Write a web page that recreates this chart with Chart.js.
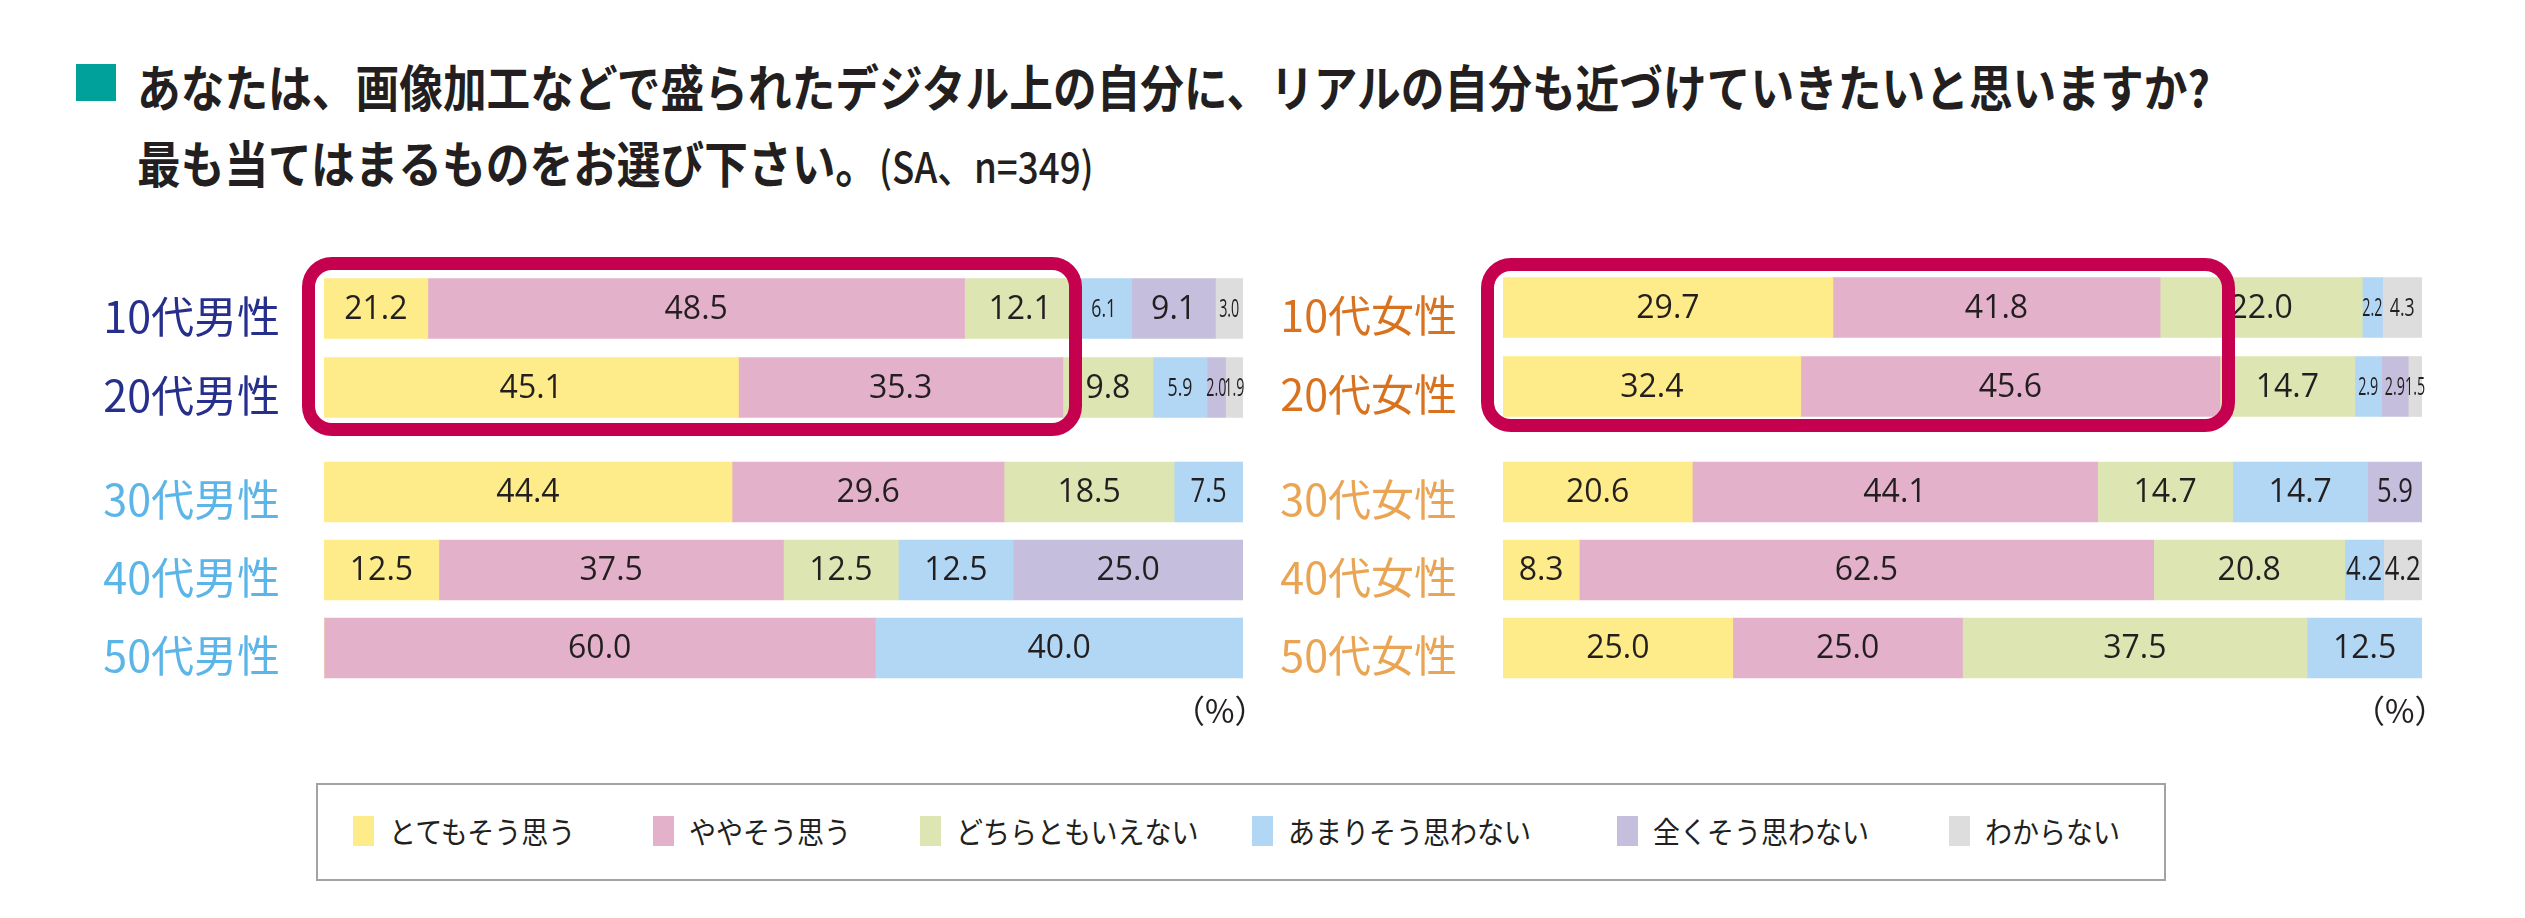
<!DOCTYPE html>
<html><head><meta charset="utf-8">
<script src="https://cdn.jsdelivr.net/npm/chart.js@4/dist/chart.umd.min.js"></script>
<style>
html,body{margin:0;padding:0;background:#fff;}
#wrap{position:relative;width:2525px;height:918px;overflow:hidden;background:#fff;}
canvas{position:absolute;}
.t{position:absolute;white-space:nowrap;font-family:"Noto Sans CJK JP";color:#231f20;}
.frame{position:absolute;box-sizing:border-box;border:13px solid #c5004f;border-radius:30px;z-index:5;}
#legend{position:absolute;left:316px;top:783px;width:1850px;height:98px;box-sizing:border-box;border:2px solid #a3a3a3;}
.lg{position:absolute;top:0;height:98px;}
.lg i{position:absolute;top:31px;width:21px;height:30px;}
.lg span{position:absolute;top:25px;font-family:"Noto Sans CJK JP";font-size:30px;line-height:40px;color:#231f20;white-space:nowrap;transform:scaleX(0.9);transform-origin:left center;}
</style></head><body>
<div id="wrap">
  <div style="position:absolute;left:76px;top:64px;width:40px;height:37px;background:#00a19a;"></div>
  <div class="t" id="t1" style="left:137px;top:60px;font-size:50px;line-height:50px;font-weight:700;transform:scaleX(0.874);transform-origin:left top;">あなたは、画像加工などで盛られたデジタル上の自分に、リアルの自分も近づけていきたいと思いますか?</div>
  <div class="t" id="t2" style="left:137px;top:136px;font-size:50px;line-height:50px;font-weight:700;transform:scaleX(0.874);transform-origin:left top;">最も当てはまるものをお選び下さい。<span style="font-size:42px;font-weight:500;">(SA、n=349)</span></div>

  <canvas id="cLT" width="1225" height="158" style="left:40px;top:269px;"></canvas>
  <canvas id="cLB" width="1225" height="234" style="left:40px;top:453px;"></canvas>
  <canvas id="cRT" width="1225" height="158" style="left:1220px;top:268px;"></canvas>
  <canvas id="cRB" width="1225" height="234" style="left:1220px;top:453px;"></canvas>

  <div class="frame" style="left:302px;top:257px;width:780px;height:179px;"></div>
  <div class="frame" style="left:1481px;top:258px;width:754px;height:174px;"></div>

  <div class="t" style="left:1173px;top:690px;font-size:32px;line-height:38px;">（%）</div>
  <div class="t" style="left:2353px;top:690px;font-size:32px;line-height:38px;">（%）</div>

  <div id="legend"></div>
</div>
<script>
// ---- data ----
const seriesLabels = ['とてもそう思う','ややそう思う','どちらともいえない','あまりそう思わない','全くそう思わない','わからない'];
const seriesColors = ['#fdec89','#e4b1cb','#dde5b2','#b2d7f4','#c6bedd','#dddddd'];

const maleTopCats = ['10代男性','20代男性'];
const maleBottomCats = ['30代男性','40代男性','50代男性'];
const femaleTopCats = ['10代女性','20代女性'];
const femaleBottomCats = ['30代女性','40代女性','50代女性'];

// printed values (%)
const male10 = [21.2, 48.5, 12.1, 6.1, 9.1, 3.0];
const male20 = [45.1, 35.3, 9.8, 5.9, 2.0, 1.9];
const male30 = [44.4, 29.6, 18.5, 7.5, 0, 0];
const male40 = [12.5, 37.5, 12.5, 12.5, 25.0, 0];
const male50 = [0, 60.0, 0, 40.0, 0, 0];
const female10 = [29.7, 41.8, 22.0, 2.2, 0, 4.3];
const female20 = [32.4, 45.6, 14.7, 2.9, 2.9, 1.5];
const female30 = [20.6, 44.1, 14.7, 14.7, 5.9, 0];
const female40 = [8.3, 62.5, 20.8, 4.2, 0, 4.2];
const female50 = [25.0, 25.0, 37.5, 12.5, 0, 0];

// bar lengths as the picture draws them, where they differ from the printed values
const male10Drawn = [11.3, 58.4, 12.1, 6.1, 9.1, 3.0];
const female10Drawn = [35.9, 35.6, 22.0, 2.2, 0, 4.3];

const maleTopColor = '#262f8c', maleBottomColor = '#5cb5e8';
const femaleTopColor = '#d9721f', femaleBottomColor = '#e9a553';

// ---- drawing ----
const valueLabels = {
  id: 'valueLabels',
  afterDatasetsDraw(chart, args, opts) {
    const ctx = chart.ctx;
    chart.data.datasets.forEach((ds, di) => {
      const meta = chart.getDatasetMeta(di);
      meta.data.forEach((bar, i) => {
        const v = ds.printed[i];
        if (!v) return;
        const cx = (bar.x + bar.base) / 2;
        const small = opts.compact && v < 7;
        const size = small ? 26 : 32;
        const sx = small ? (v < 4 ? 0.55 : 0.68) : (v < 8 ? 0.8 : 1);
        ctx.save();
        ctx.font = size + 'px "Open Sans"';
        ctx.fillStyle = '#231f20';
        ctx.textAlign = 'center';
        ctx.textBaseline = 'middle';
        ctx.translate(cx, bar.y + 1);
        ctx.scale(sx, 1);
        ctx.fillText(v.toFixed(1), 0, 0);
        ctx.restore();
      });
    });
  }
};

function makeChart(id, cats, printedRows, drawnRows, tickColor, padRight, tickPad, axisW, compact) {
  const datasets = seriesLabels.map((lab, s) => ({
    label: lab,
    data: drawnRows.map(r => r[s]),
    printed: printedRows.map(r => r[s]),
    backgroundColor: seriesColors[s],
    borderWidth: 0,
    barThickness: 60
  }));
  return new Chart(document.getElementById(id), {
    type: 'bar',
    data: { labels: cats, datasets },
    options: {
      indexAxis: 'y',
      responsive: false,
      animation: false,
      events: [],
      layout: { padding: { left: 0, right: padRight, top: 0, bottom: 0 } },
      plugins: { legend: { display: false }, tooltip: { enabled: false }, valueLabels: { compact } },
      scales: {
        x: { stacked: true, min: 0, max: 100, display: false },
        y: {
          stacked: true,
          grid: { display: false, drawTicks: false },
          border: { display: false },
          ticks: {
            color: tickColor,
            padding: tickPad,
            labelOffset: 8,
            font: { family: '"Noto Sans CJK JP"', size: 43, weight: 'normal' }
          },
          afterFit(scale) { scale.width = axisW; scale.paddingTop = 0; scale.paddingBottom = 0; }
        }
      }
    },
    plugins: [valueLabels]
  });
}

makeChart('cLT', maleTopCats, [male10, male20], [male10Drawn, male20], maleTopColor, 22, 44, 284, true);
makeChart('cLB', maleBottomCats, [male30, male40, male50], [male30, male40, male50], maleBottomColor, 22, 44, 284, false);
makeChart('cRT', femaleTopCats, [female10, female20], [female10Drawn, female20], femaleTopColor, 23, 46, 283, true);
makeChart('cRB', femaleBottomCats, [female30, female40, female50], [female30, female40, female50], femaleBottomColor, 23, 46, 283, false);

// legend
const legendSquareX = [35, 335, 602, 934, 1299, 1631];
const lgBox = document.getElementById('legend');
seriesLabels.forEach((lab, s) => {
  const d = document.createElement('div');
  d.className = 'lg';
  d.style.left = legendSquareX[s] + 'px';
  d.innerHTML = '<i style="background:' + seriesColors[s] + '"></i><span style="left:36px">' + lab + '</span>';
  lgBox.appendChild(d);
});
</script>
</body></html>
